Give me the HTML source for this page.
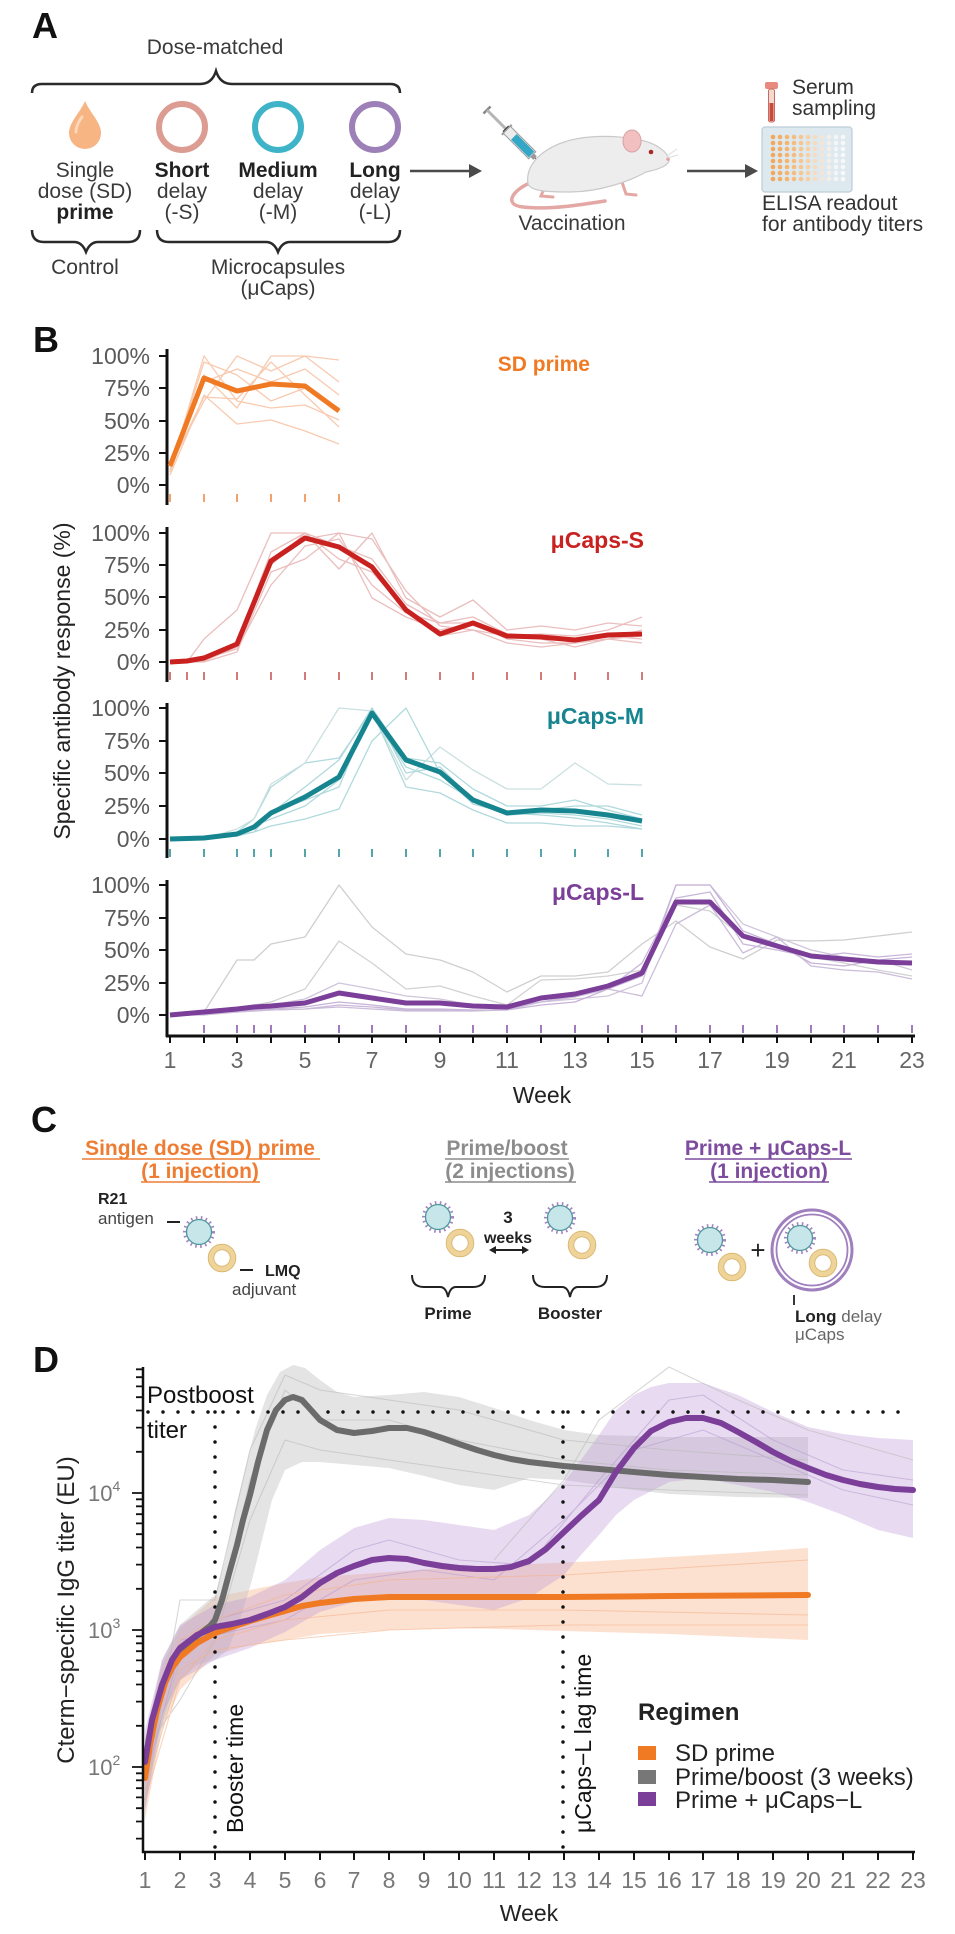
<!DOCTYPE html>
<html><head><meta charset="utf-8"><style>
html,body{margin:0;padding:0;background:#fff;}
svg{display:block;}
</style></head><body>
<svg width="955" height="1934" viewBox="0 0 955 1934" xmlns="http://www.w3.org/2000/svg" font-family="'Liberation Sans', Arial, sans-serif">
<rect width="955" height="1934" fill="#fff"/>

<!-- ================= PANEL A ================= -->
<text x="32" y="38" font-size="36" font-weight="bold" fill="#111">A</text>
<text x="215" y="54" font-size="21" fill="#3a3a3a" text-anchor="middle">Dose-matched</text>
<path d="M32,93 Q32,84 42,84 L200,84 Q212,84 216,71 Q220,84 232,84 L390,84 Q400,84 400,93" fill="none" stroke="#2a2a2a" stroke-width="2.5"/>
<!-- drop -->
<path d="M85,101 C80,113 69,122 69,133 A16,16 0 0 0 101,133 C101,122 90,113 85,101 Z" fill="#f6b583"/>
<path d="M76,132 C76,126 79,121 82,117" fill="none" stroke="#fbd6b8" stroke-width="3" stroke-linecap="round"/>
<circle cx="182" cy="127" r="23" fill="none" stroke="#dc9c92" stroke-width="6"/>
<circle cx="278" cy="127" r="23" fill="none" stroke="#3fb4c9" stroke-width="6"/>
<circle cx="375" cy="127" r="23" fill="none" stroke="#9d80b8" stroke-width="6"/>
<g font-size="21" fill="#3a3a3a" text-anchor="middle">
<text x="85" y="177">Single</text><text x="85" y="198">dose (SD)</text><text x="85" y="219" font-weight="bold" fill="#222">prime</text>
<text x="182" y="177" font-weight="bold" fill="#222">Short</text><text x="182" y="198">delay</text><text x="182" y="219">(-S)</text>
<text x="278" y="177" font-weight="bold" fill="#222">Medium</text><text x="278" y="198">delay</text><text x="278" y="219">(-M)</text>
<text x="375" y="177" font-weight="bold" fill="#222">Long</text><text x="375" y="198">delay</text><text x="375" y="219">(-L)</text>
<text x="85" y="274">Control</text>
<text x="278" y="274">Microcapsules</text>
<text x="278" y="295">(μCaps)</text>
</g>
<path d="M32,230 Q32,242 44,242 L74,242 Q82,242 86,252 Q90,242 98,242 L128,242 Q140,242 140,230" fill="none" stroke="#2a2a2a" stroke-width="2.5"/>
<path d="M157,230 Q157,242 169,242 L266,242 Q274,242 278,252 Q282,242 290,242 L388,242 Q400,242 400,230" fill="none" stroke="#2a2a2a" stroke-width="2.5"/>
<!-- arrow 1 -->
<line x1="410" y1="171" x2="472" y2="171" stroke="#4a4a4a" stroke-width="2.5"/>
<polygon points="469,164 482,171 469,178" fill="#4a4a4a"/>
<!-- syringe -->
<g transform="translate(487,110) rotate(45)">
<line x1="0" y1="-5" x2="0" y2="5" stroke="#888" stroke-width="2.5"/>
<rect x="0" y="-1.5" width="28" height="3" fill="#b5b5b5"/>
<rect x="26" y="-4" width="4" height="8" fill="#333"/>
<line x1="28" y1="-7" x2="28" y2="7" stroke="#999" stroke-width="2"/>
<rect x="28" y="-5" width="36" height="10" fill="#ececec" stroke="#9a9a9a" stroke-width="1"/>
<rect x="38" y="-4" width="25" height="8" fill="#35a7c6"/>
<rect x="64" y="-2.5" width="4" height="5" fill="#999"/>
<line x1="68" y1="0" x2="82" y2="0" stroke="#555" stroke-width="1.3"/>
</g>
<!-- mouse -->
<path d="M532,182 C512,190 503,205 523,207 C548,210 580,205 605,201" fill="none" stroke="#e3a7a4" stroke-width="3.5" stroke-linecap="round"/>
<path d="M545,186 l-4,10 l12,1 M622,182 l4,12 l10,1" fill="none" stroke="#e3a7a4" stroke-width="3" stroke-linecap="round"/>
<path d="M528,184 C524,160 552,140 590,137 C614,135 628,138 640,140 C656,143 668,152 669,160 C669,166 656,170 646,172 C630,181 600,192 570,192 C546,192 531,191 528,184 Z" fill="#ededed" stroke="#c9c9c9" stroke-width="1.2"/>
<ellipse cx="632" cy="141" rx="9" ry="11" fill="#f2c0c0" stroke="#d7a2a2" stroke-width="1"/>
<circle cx="651" cy="152" r="2.3" fill="#a52a2a"/>
<circle cx="668" cy="159" r="1.8" fill="#e39a9a"/>
<path d="M667,156 l10,-7 M667,158 l11,-3" stroke="#ddd" stroke-width="1"/>
<text x="572" y="230" font-size="21" fill="#3a3a3a" text-anchor="middle">Vaccination</text>
<!-- arrow 2 -->
<line x1="687" y1="171" x2="748" y2="171" stroke="#4a4a4a" stroke-width="2.5"/>
<polygon points="745,164 758,171 745,178" fill="#4a4a4a"/>
<!-- tube -->
<rect x="765" y="82" width="13" height="7" rx="2" fill="#e88a80"/>
<rect x="768.5" y="89" width="6" height="33" rx="2" fill="#f4d9cf" stroke="#c96a60" stroke-width="1"/>
<rect x="769.5" y="103" width="4" height="18" fill="#c94a3a"/>
<text x="792" y="94" font-size="21" fill="#333">Serum</text>
<text x="792" y="115" font-size="21" fill="#333">sampling</text>
<!-- plate -->
<rect x="762" y="127" width="90" height="65" rx="3" fill="#dde9ef" stroke="#bccdd6" stroke-width="1.2"/>
<g>
<g fill="#f3a75a"><circle cx="773" cy="137" r="2.3"/><circle cx="773" cy="143" r="2.3"/><circle cx="773" cy="149" r="2.3"/><circle cx="773" cy="155" r="2.3"/><circle cx="773" cy="161" r="2.3"/><circle cx="773" cy="167" r="2.3"/><circle cx="773" cy="173" r="2.3"/><circle cx="773" cy="179" r="2.3"/></g>
<g fill="#f4ad64"><circle cx="780" cy="137" r="2.3"/><circle cx="780" cy="143" r="2.3"/><circle cx="780" cy="149" r="2.3"/><circle cx="780" cy="155" r="2.3"/><circle cx="780" cy="161" r="2.3"/><circle cx="780" cy="167" r="2.3"/><circle cx="780" cy="173" r="2.3"/><circle cx="780" cy="179" r="2.3"/></g>
<g fill="#f5b470"><circle cx="787" cy="137" r="2.3"/><circle cx="787" cy="143" r="2.3"/><circle cx="787" cy="149" r="2.3"/><circle cx="787" cy="155" r="2.3"/><circle cx="787" cy="161" r="2.3"/><circle cx="787" cy="167" r="2.3"/><circle cx="787" cy="173" r="2.3"/><circle cx="787" cy="179" r="2.3"/></g>
<g fill="#f6bc7f"><circle cx="794" cy="137" r="2.3"/><circle cx="794" cy="143" r="2.3"/><circle cx="794" cy="149" r="2.3"/><circle cx="794" cy="155" r="2.3"/><circle cx="794" cy="161" r="2.3"/><circle cx="794" cy="167" r="2.3"/><circle cx="794" cy="173" r="2.3"/><circle cx="794" cy="179" r="2.3"/></g>
<g fill="#f7c590"><circle cx="801" cy="137" r="2.3"/><circle cx="801" cy="143" r="2.3"/><circle cx="801" cy="149" r="2.3"/><circle cx="801" cy="155" r="2.3"/><circle cx="801" cy="161" r="2.3"/><circle cx="801" cy="167" r="2.3"/><circle cx="801" cy="173" r="2.3"/><circle cx="801" cy="179" r="2.3"/></g>
<g fill="#f7cfa4"><circle cx="808" cy="137" r="2.3"/><circle cx="808" cy="143" r="2.3"/><circle cx="808" cy="149" r="2.3"/><circle cx="808" cy="155" r="2.3"/><circle cx="808" cy="161" r="2.3"/><circle cx="808" cy="167" r="2.3"/><circle cx="808" cy="173" r="2.3"/><circle cx="808" cy="179" r="2.3"/></g>
<g fill="#f5dcc0"><circle cx="815" cy="137" r="2.3"/><circle cx="815" cy="143" r="2.3"/><circle cx="815" cy="149" r="2.3"/><circle cx="815" cy="155" r="2.3"/><circle cx="815" cy="161" r="2.3"/><circle cx="815" cy="167" r="2.3"/><circle cx="815" cy="173" r="2.3"/><circle cx="815" cy="179" r="2.3"/></g>
<g fill="#f3e6d6"><circle cx="822" cy="137" r="2.3"/><circle cx="822" cy="143" r="2.3"/><circle cx="822" cy="149" r="2.3"/><circle cx="822" cy="155" r="2.3"/><circle cx="822" cy="161" r="2.3"/><circle cx="822" cy="167" r="2.3"/><circle cx="822" cy="173" r="2.3"/><circle cx="822" cy="179" r="2.3"/></g>
<g fill="#f2eee8"><circle cx="829" cy="137" r="2.3"/><circle cx="829" cy="143" r="2.3"/><circle cx="829" cy="149" r="2.3"/><circle cx="829" cy="155" r="2.3"/><circle cx="829" cy="161" r="2.3"/><circle cx="829" cy="167" r="2.3"/><circle cx="829" cy="173" r="2.3"/><circle cx="829" cy="179" r="2.3"/></g>
<g fill="#f5f5f5"><circle cx="836" cy="137" r="2.3"/><circle cx="836" cy="143" r="2.3"/><circle cx="836" cy="149" r="2.3"/><circle cx="836" cy="155" r="2.3"/><circle cx="836" cy="161" r="2.3"/><circle cx="836" cy="167" r="2.3"/><circle cx="836" cy="173" r="2.3"/><circle cx="836" cy="179" r="2.3"/></g>
<g fill="#f8f8f8"><circle cx="843" cy="137" r="2.3"/><circle cx="843" cy="143" r="2.3"/><circle cx="843" cy="149" r="2.3"/><circle cx="843" cy="155" r="2.3"/><circle cx="843" cy="161" r="2.3"/><circle cx="843" cy="167" r="2.3"/><circle cx="843" cy="173" r="2.3"/><circle cx="843" cy="179" r="2.3"/></g>
</g>
<text x="762" y="210" font-size="21" fill="#333">ELISA readout</text>
<text x="762" y="231" font-size="21" fill="#333">for antibody titers</text>

<!-- ================= PANEL B ================= -->
<text x="33" y="352" font-size="36" font-weight="bold" fill="#111">B</text>
<text transform="translate(70,681) rotate(-90)" font-size="23" fill="#222" text-anchor="middle">Specific antibody response (%)</text>

<!-- y tick labels -->
<g font-size="23" fill="#5a5a5a" text-anchor="end">
<text x="150" y="364">100%</text><text x="150" y="396">75%</text><text x="150" y="429">50%</text><text x="150" y="461">25%</text><text x="150" y="493">0%</text>
<text x="150" y="541">100%</text><text x="150" y="573">75%</text><text x="150" y="605">50%</text><text x="150" y="638">25%</text><text x="150" y="670">0%</text>
<text x="150" y="716">100%</text><text x="150" y="749">75%</text><text x="150" y="781">50%</text><text x="150" y="814">25%</text><text x="150" y="847">0%</text>
<text x="150" y="893">100%</text><text x="150" y="926">75%</text><text x="150" y="958">50%</text><text x="150" y="991">25%</text><text x="150" y="1023">0%</text>
</g>
<g stroke="#111" stroke-width="2">
<path d="M159,356H167M159,388H167M159,421H167M159,453H167M159,485H167"/>
<path d="M159,533H167M159,565H167M159,597H167M159,630H167M159,662H167"/>
<path d="M159,708H167M159,741H167M159,773H167M159,806H167M159,839H167"/>
<path d="M159,885H167M159,918H167M159,950H167M159,983H167M159,1015H167"/>
</g>
<g stroke="#111" stroke-width="3">
<line x1="167" y1="349" x2="167" y2="505"/>
<line x1="167" y1="527" x2="167" y2="682"/>
<line x1="167" y1="703" x2="167" y2="858"/>
<line x1="167" y1="880" x2="167" y2="1037"/>
<line x1="166" y1="1036" x2="915" y2="1036"/>
</g>
<!-- x ticks B -->
<path d="M170,1036V1043M204,1036V1043M237,1036V1043M271,1036V1043M305,1036V1043M339,1036V1043M372,1036V1043M406,1036V1043M440,1036V1043M473,1036V1043M507,1036V1043M541,1036V1043M575,1036V1043M608,1036V1043M642,1036V1043M676,1036V1043M710,1036V1043M743,1036V1043M777,1036V1043M811,1036V1043M844,1036V1043M878,1036V1043M912,1036V1043" stroke="#111" stroke-width="2"/>
<g font-size="23" fill="#666" text-anchor="middle">
<text x="170" y="1068">1</text><text x="237" y="1068">3</text><text x="305" y="1068">5</text><text x="372" y="1068">7</text><text x="440" y="1068">9</text><text x="507" y="1068">11</text><text x="575" y="1068">13</text><text x="642" y="1068">15</text><text x="710" y="1068">17</text><text x="777" y="1068">19</text><text x="844" y="1068">21</text><text x="912" y="1068">23</text>
</g>
<text x="542" y="1103" font-size="23" fill="#222" text-anchor="middle">Week</text>

<!-- rug ticks -->
<path d="M170,494V502M204,494V502M237,494V502M271,494V502M305,494V502M339,494V502" stroke="#f08a45" stroke-width="1.6"/>
<path d="M170,672V680M187,672V680M204,672V680M237,672V680M271,672V680M305,672V680M339,672V680M372,672V680M406,672V680M440,672V680M473,672V680M507,672V680M541,672V680M575,672V680M608,672V680M642,672V680" stroke="#c85a5a" stroke-width="1.6"/>
<path d="M170,849V857M204,849V857M237,849V857M254,849V857M271,849V857M305,849V857M339,849V857M372,849V857M406,849V857M440,849V857M473,849V857M507,849V857M541,849V857M575,849V857M608,849V857M642,849V857" stroke="#2a8e98" stroke-width="1.6"/>
<path d="M204,1025V1033M237,1025V1033M254,1025V1033M271,1025V1033M305,1025V1033M339,1025V1033M372,1025V1033M406,1025V1033M440,1025V1033M473,1025V1033M507,1025V1033M541,1025V1033M575,1025V1033M608,1025V1033M642,1025V1033M676,1025V1033M710,1025V1033M743,1025V1033M777,1025V1033M811,1025V1033M844,1025V1033M878,1025V1033M912,1025V1033" stroke="#8a5aa8" stroke-width="1.6"/>

<!-- SD prime -->
<g fill="none" stroke="#f4a070" stroke-width="1.3" opacity="0.55" stroke-linejoin="round">
<polyline points="170,470 204,356 237,401 271,408 305,405 339,420"/>
<polyline points="170,466 204,401 237,356 271,371 305,356 339,382"/>
<polyline points="170,472 204,375 237,408 271,356 305,356 339,360"/>
<polyline points="170,475 204,395 237,424 271,420 305,431 339,444"/>
<polyline points="170,467 204,397 237,399 271,362 305,395 339,427"/>
<polyline points="170,470 204,362 237,375 271,401 305,388 339,408"/>
<polyline points="170,472 204,382 237,369 271,382 305,369 339,395"/>
</g>
<polyline points="170,466 204,378 237,391 271,384 305,386 339,411" fill="none" stroke="#f07a24" stroke-width="5" stroke-linejoin="round"/>
<text x="590" y="371" font-size="21" font-weight="bold" fill="#f07a24" text-anchor="end">SD prime</text>

<!-- uCaps-S -->
<g fill="none" stroke="#d98a8a" stroke-width="1.3" opacity="0.55" stroke-linejoin="round">
<polyline points="170,662 187,662 204,639 237,610 271,533 305,533 339,546 372,559 406,604 440,623 473,617 507,634 541,636 575,643 608,639 642,636"/>
<polyline points="170,662 187,662 204,656 237,647 271,565 305,533 339,569 372,533 406,598 440,617 473,600 507,630 541,626 575,630 608,623 642,626"/>
<polyline points="170,662 187,662 204,659 237,649 271,585 305,546 339,539 372,585 406,613 440,623 473,623 507,639 541,643 575,643 608,639 642,643"/>
<polyline points="170,662 187,662 204,662 237,652 271,572 305,559 339,533 372,539 406,591 440,626 473,630 507,643 541,647 575,643 608,636 642,639"/>
<polyline points="170,662 187,662 204,658 237,643 271,552 305,533 339,559 372,572 406,610 440,636 473,630 507,636 541,634 575,636 608,630 642,617"/>
<polyline points="170,662 187,662 204,661 237,647 271,559 305,539 339,533 372,598 406,617 440,630 473,623 507,634 541,639 575,647 608,639 642,630"/>
</g>
<polyline points="170,662 187,661 204,658 237,644 271,561 305,538 339,547 372,567 406,610 440,634 473,623 507,636 541,637 575,640 608,635 642,634" fill="none" stroke="#c8211f" stroke-width="5" stroke-linejoin="round"/>
<text x="644" y="548" font-size="23" font-weight="bold" fill="#c8211f" text-anchor="end">μCaps-S</text>

<!-- uCaps-M -->
<g fill="none" stroke="#7cc1c6" stroke-width="1.3" opacity="0.6" stroke-linejoin="round">
<polyline points="170,839 204,839 237,835 254,832 271,813 305,787 339,760 372,708 406,758 440,763 473,789 507,806 541,806 575,800 608,810 642,819"/>
<polyline points="170,839 204,839 237,832 254,819 271,787 305,763 339,758 372,711 406,787 440,793 473,810 507,823 541,823 575,826 608,826 642,829"/>
<polyline points="170,839 204,839 237,834 254,826 271,819 305,806 339,780 372,715 406,767 440,780 473,800 507,813 541,815 575,818 608,823 642,829"/>
<polyline points="170,839 204,839 237,829 254,819 271,784 305,763 339,708 372,711 406,780 440,747 473,770 507,789 541,789 575,763 608,784 642,785" stroke="#a8cccc"/>
<polyline points="170,839 204,839 237,836 254,832 271,826 305,819 339,809 372,741 406,708 440,773 473,804 507,813 541,810 575,806 608,806 642,815"/>
<polyline points="170,839 204,839 237,835 254,826 271,813 305,800 339,787 372,708 406,773 440,767 473,800 507,815 541,813 575,815 608,819 642,826"/>
</g>
<polyline points="170,839 204,838 237,834 254,827 271,813 305,797 339,777 372,713 406,760 440,772 473,800 507,813 541,810 575,811 608,815 642,821" fill="none" stroke="#16858f" stroke-width="5" stroke-linejoin="round"/>
<text x="644" y="724" font-size="23" font-weight="bold" fill="#16858f" text-anchor="end">μCaps-M</text>

<!-- uCaps-L -->
<g fill="none" stroke-width="1.3" stroke-linejoin="round">
<polyline stroke="#cfcfcf" points="170,1015 204,1012 237,960 254,960 271,944 305,937 339,885 372,927 406,954 440,960 473,972 507,992 541,976 575,976 608,972 642,944 676,921 710,947 743,959 777,940 811,941 844,940 878,936 912,932"/>
<polyline stroke="#d2d2d2" points="170,1015 204,1012 237,1009 254,1005 271,1002 305,989 339,941 372,963 406,989 440,986 473,996 507,1005 541,980 575,979 608,976 642,970 676,905 710,911 743,937 777,944 811,957 844,963 878,970 912,976"/>
<polyline stroke="#d0c6da" points="170,1015 204,1014 237,1011 254,1009 271,1005 305,999 339,983 372,989 406,996 440,999 473,1005 507,1007 541,1002 575,999 608,996 642,983 676,885 710,885 743,924 777,937 811,950 844,957 878,960 912,970"/>
<polyline stroke="#c7b3d8" points="170,1015 204,1014 237,1011 254,1010 271,1009 305,1007 339,1002 372,1005 406,1009 440,1009 473,1010 507,1010 541,1005 575,1002 608,989 642,976 676,885 710,885 743,931 777,944 811,963 844,966 878,960 912,957"/>
<polyline stroke="#c9b7d9" points="170,1015 204,1014 237,1012 254,1011 271,1010 305,1009 339,1005 372,1007 406,1010 440,1010 473,1011 507,1009 541,1002 575,996 608,989 642,963 676,898 710,892 743,944 777,950 811,957 844,953 878,957 912,954"/>
<polyline stroke="#cbbcd9" points="170,1015 204,1015 237,1012 254,1011 271,1010 305,1009 339,1007 372,1009 406,1011 440,1011 473,1011 507,1010 541,1002 575,997 608,989 642,996 676,924 710,905 743,953 777,937 811,966 844,970 878,972 912,979"/>
</g>
<polyline points="170,1015 204,1012 237,1009 254,1007 271,1006 305,1003 339,993 372,998 406,1003 440,1003 473,1006 507,1007 541,998 575,994 608,986 642,973 676,902 710,902 743,936 777,946 811,956 844,959 878,962 912,963" fill="none" stroke="#7b3f99" stroke-width="5" stroke-linejoin="round"/>
<text x="644" y="900" font-size="23" font-weight="bold" fill="#7b3f99" text-anchor="end">μCaps-L</text>

<!-- ================= PANEL C ================= -->
<text x="31" y="1132" font-size="36" font-weight="bold" fill="#111">C</text>
<g font-size="21" font-weight="bold" text-anchor="middle">
<text x="200" y="1155" fill="#ee7d33">Single dose (SD) prime</text>
<text x="200" y="1178" fill="#ee7d33">(1 injection)</text>
<text x="507" y="1155" fill="#8c8c8c">Prime/boost</text>
<text x="510" y="1178" fill="#8c8c8c">(2 injections)</text>
<text x="768" y="1155" fill="#7d4c9e">Prime + μCaps-L</text>
<text x="769" y="1178" fill="#7d4c9e">(1 injection)</text>
</g>
<g stroke-width="1.6">
<line x1="82" y1="1159" x2="320" y2="1159" stroke="#ee7d33"/>
<line x1="141" y1="1182" x2="260" y2="1182" stroke="#ee7d33"/>
<line x1="445" y1="1159" x2="569" y2="1159" stroke="#8c8c8c"/>
<line x1="445" y1="1182" x2="576" y2="1182" stroke="#8c8c8c"/>
<line x1="685" y1="1159" x2="852" y2="1159" stroke="#7d4c9e"/>
<line x1="709" y1="1182" x2="829" y2="1182" stroke="#7d4c9e"/>
</g>
<!-- particles -->
<defs>
<g id="ag"><circle r="14.5" fill="none" stroke="#a583c0" stroke-width="3" stroke-dasharray="1.6 3.4"/><circle r="12.5" fill="#c6e6ea" stroke="#4f979e" stroke-width="1.3"/></g>
<g id="rg"><circle r="11" fill="#fff" stroke="#efd49a" stroke-width="5.5"/><circle r="13.8" fill="none" stroke="#d8b56e" stroke-width="0.9"/><circle r="8.2" fill="none" stroke="#d8b56e" stroke-width="0.9"/></g>
</defs>
<text x="98" y="1204" font-size="16" font-weight="bold" fill="#222">R21</text>
<text x="98" y="1224" font-size="17" fill="#444">antigen</text>
<line x1="167" y1="1222" x2="180" y2="1222" stroke="#222" stroke-width="2"/>
<use href="#ag" x="199" y="1232"/>
<use href="#rg" x="222" y="1258"/>
<line x1="240" y1="1270" x2="253" y2="1270" stroke="#222" stroke-width="2"/>
<text x="265" y="1276" font-size="16" font-weight="bold" fill="#222">LMQ</text>
<text x="232" y="1295" font-size="17" fill="#444">adjuvant</text>

<use href="#ag" x="438" y="1217"/>
<use href="#rg" x="460" y="1243"/>
<use href="#ag" x="560" y="1218"/>
<use href="#rg" x="582" y="1245"/>
<text x="508" y="1223" font-size="17" font-weight="bold" fill="#222" text-anchor="middle">3</text>
<text x="508" y="1243" font-size="16" font-weight="bold" fill="#222" text-anchor="middle">weeks</text>
<line x1="494" y1="1250" x2="524" y2="1250" stroke="#222" stroke-width="2"/>
<polygon points="489,1250 496,1246 496,1254" fill="#222"/>
<polygon points="529,1250 522,1246 522,1254" fill="#222"/>
<path d="M412,1275 Q412,1287 424,1287 L440,1287 Q446,1287 448,1297 Q450,1287 456,1287 L473,1287 Q485,1287 485,1275" fill="none" stroke="#222" stroke-width="2"/>
<path d="M533,1275 Q533,1287 545,1287 L562,1287 Q568,1287 570,1297 Q572,1287 578,1287 L595,1287 Q607,1287 607,1275" fill="none" stroke="#222" stroke-width="2"/>
<text x="448" y="1319" font-size="17" font-weight="bold" fill="#222" text-anchor="middle">Prime</text>
<text x="570" y="1319" font-size="17" font-weight="bold" fill="#222" text-anchor="middle">Booster</text>

<use href="#ag" x="710" y="1240"/>
<use href="#rg" x="732" y="1267"/>
<text x="758" y="1259" font-size="26" fill="#222" text-anchor="middle">+</text>
<circle cx="812" cy="1250" r="40" fill="none" stroke="#a07fbe" stroke-width="3"/>
<circle cx="812" cy="1250" r="35.5" fill="none" stroke="#a07fbe" stroke-width="1.8"/>
<use href="#ag" x="800" y="1238"/>
<use href="#rg" x="823" y="1263"/>
<line x1="794" y1="1295" x2="794" y2="1305" stroke="#222" stroke-width="1.8"/>
<text x="795" y="1322" font-size="17" fill="#666"><tspan font-weight="bold" fill="#222">Long</tspan> delay</text>
<text x="795" y="1340" font-size="17" fill="#666">μCaps</text>

<!-- ================= PANEL D ================= -->
<text x="33" y="1372" font-size="36" font-weight="bold" fill="#111">D</text>
<text transform="translate(74,1610) rotate(-90)" font-size="24" fill="#222" text-anchor="middle">Cterm−specific IgG titer (EU)</text>

<!-- bands -->
<polygon fill="#f9b48a" opacity="0.4" points="145,1740 162,1665 180,1628 215,1597 250,1590 285,1583 320,1577 389,1572 459,1567 529,1564 599,1561 669,1557 738,1553 808,1548 808,1640 738,1637 669,1634 599,1632 529,1630 459,1628 389,1630 320,1634 285,1640 250,1645 215,1655 180,1690 162,1730 145,1820"/>
<polygon fill="#c4c4c4" opacity="0.45" points="145,1740 162,1660 180,1625 197,1610 215,1595 225,1560 235,1510 245,1470 255,1430 267,1395 280,1372 293,1365 305,1368 320,1380 337,1392 354,1397 389,1395 424,1392 459,1397 494,1408 529,1420 564,1430 599,1435 669,1437 738,1437 808,1437 808,1498 738,1497 669,1494 634,1490 599,1485 564,1480 529,1478 494,1490 459,1485 424,1476 389,1468 354,1465 320,1462 302,1462 285,1470 272,1500 262,1540 252,1580 240,1620 228,1650 215,1660 197,1665 180,1680 162,1725 145,1810"/>
<polygon fill="#b892d6" opacity="0.33" points="145,1730 162,1660 180,1625 215,1605 250,1597 285,1580 320,1550 354,1528 389,1518 424,1520 459,1525 494,1530 529,1515 546,1500 564,1482 581,1460 599,1435 616,1410 634,1395 651,1387 669,1383 703,1383 738,1395 773,1412 808,1427 843,1434 878,1438 913,1440 913,1538 878,1530 843,1515 808,1502 773,1492 738,1485 703,1478 669,1482 634,1500 616,1515 599,1535 581,1555 564,1575 529,1598 494,1610 459,1605 424,1600 389,1595 354,1602 320,1612 285,1632 250,1648 215,1660 180,1680 162,1715 145,1810"/>

<!-- thin lines -->
<g fill="none" stroke-width="1.1" stroke-linejoin="round" opacity="0.55">
<polyline stroke="#b8b8b8" points="145,1800 180,1600 215,1600 250,1450 285,1375 320,1390 389,1400 459,1410 564,1440 669,1450 808,1460"/>
<polyline stroke="#b8b8b8" points="145,1750 180,1700 215,1640 250,1520 285,1440 320,1450 389,1460 459,1470 564,1485 669,1490 808,1495"/>
<polyline stroke="#b8b8b8" points="145,1780 180,1660 215,1630 250,1480 285,1390 320,1420 389,1420 459,1440 564,1460 669,1470 808,1475"/>
<polyline stroke="#b8b8b8" points="494,1560 564,1480 599,1420 669,1367 738,1400 808,1430 913,1460"/>
<polyline stroke="#b89ad0" points="145,1780 180,1650 215,1620 285,1600 354,1550 389,1540 459,1560 529,1565 599,1480 669,1400 703,1395 773,1440 843,1470 913,1480"/>
<polyline stroke="#b89ad0" points="145,1760 180,1640 215,1635 285,1620 354,1580 424,1570 494,1580 564,1520 634,1450 703,1430 773,1460 843,1490 913,1505"/>
<polyline stroke="#f4b08a" points="145,1800 180,1680 215,1640 285,1620 389,1610 564,1610 808,1615"/>
<polyline stroke="#f4b08a" points="145,1760 180,1640 215,1620 285,1595 389,1580 564,1575 808,1560"/>
<polyline stroke="#f4b08a" points="145,1790 180,1670 215,1650 285,1640 389,1630 564,1625 808,1625"/>
</g>

<!-- dotted reference lines -->
<g stroke="#111" stroke-width="3.5" stroke-linecap="round" stroke-dasharray="0 15" fill="none">
<line x1="148" y1="1412" x2="913" y2="1412"/>
<line x1="215" y1="1412" x2="215" y2="1850"/>
<line x1="563" y1="1412" x2="563" y2="1850"/>
</g>
<text x="147" y="1403" font-size="24" fill="#111">Postboost</text>
<text x="147" y="1438" font-size="24" fill="#111">titer</text>
<text transform="translate(243,1833) rotate(-90)" font-size="23" fill="#111">Booster time</text>
<text transform="translate(591,1833) rotate(-90)" font-size="23" fill="#111">μCaps−L lag time</text>

<!-- mean curves -->
<polyline fill="none" stroke="#6b6b6b" stroke-width="6" stroke-linejoin="round" stroke-linecap="round" points="145,1770 155,1715 165,1680 180,1652 197,1636 210,1626 215,1620 222,1600 230,1570 237,1545 243,1520 250,1495 258,1462 267,1430 276,1410 285,1400 293,1397 302,1400 311,1410 320,1420 337,1430 354,1433 372,1431 389,1428 407,1428 424,1432 442,1438 459,1444 477,1450 494,1455 511,1459 529,1462 564,1466 599,1469 634,1472 669,1475 703,1477 738,1479 773,1480 808,1482"/>
<polyline fill="none" stroke="#f07a24" stroke-width="6" stroke-linejoin="round" stroke-linecap="round" points="145,1778 150,1745 157,1710 165,1683 172,1668 180,1657 197,1643 215,1633 232,1627 250,1621 267,1616 285,1611 302,1606 320,1603 354,1599 389,1597 459,1597 564,1597 669,1596 808,1595"/>
<polyline fill="none" stroke="#7b3f99" stroke-width="6" stroke-linejoin="round" stroke-linecap="round" points="145,1762 152,1720 162,1685 172,1660 180,1648 197,1635 215,1627 232,1624 250,1620 267,1614 285,1607 302,1597 320,1583 337,1573 354,1566 372,1560 389,1558 407,1559 424,1563 442,1566 459,1568 477,1569 494,1569 511,1567 529,1561 546,1549 564,1532 581,1516 599,1500 616,1472 634,1448 651,1431 669,1422 686,1418 703,1418 721,1423 738,1432 756,1442 773,1452 791,1461 808,1468 826,1475 843,1480 860,1484 878,1487 895,1489 913,1490"/>

<!-- axes D -->
<g stroke="#111" stroke-width="2.5">
<line x1="143" y1="1367" x2="143" y2="1853"/>
<line x1="142" y1="1852" x2="915" y2="1852"/>
</g>
<path stroke="#111" stroke-width="1.8" d="M136,1838.6H143M136,1821.5H143M136,1808.2H143M136,1797.4H143M136,1788.2H143M136,1780.3H143M136,1773.3H143M132,1767H143M136,1725.8H143M136,1701.6H143M136,1684.5H143M136,1671.2H143M136,1660.4H143M136,1651.2H143M136,1643.3H143M136,1636.3H143M132,1630H143M136,1588.8H143M136,1564.6H143M136,1547.5H143M136,1534.2H143M136,1523.4H143M136,1514.2H143M136,1506.3H143M136,1499.3H143M132,1493H143M136,1451.8H143M136,1427.6H143M136,1410.5H143M136,1397.2H143M136,1386.4H143M136,1377.2H143M136,1369.3H143"/>
<g fill="#777">
<text x="88" y="1501" font-size="22">10<tspan font-size="14" dy="-10">4</tspan></text>
<text x="88" y="1638" font-size="22">10<tspan font-size="14" dy="-10">3</tspan></text>
<text x="88" y="1775" font-size="22">10<tspan font-size="14" dy="-10">2</tspan></text>
</g>
<path stroke="#111" stroke-width="2" d="M145,1852V1860M180,1852V1860M215,1852V1860M250,1852V1860M285,1852V1860M320,1852V1860M354,1852V1860M389,1852V1860M424,1852V1860M459,1852V1860M494,1852V1860M529,1852V1860M564,1852V1860M599,1852V1860M634,1852V1860M669,1852V1860M703,1852V1860M738,1852V1860M773,1852V1860M808,1852V1860M843,1852V1860M878,1852V1860M913,1852V1860"/>
<g font-size="23" fill="#777" text-anchor="middle">
<text x="145" y="1888">1</text><text x="180" y="1888">2</text><text x="215" y="1888">3</text><text x="250" y="1888">4</text><text x="285" y="1888">5</text><text x="320" y="1888">6</text><text x="354" y="1888">7</text><text x="389" y="1888">8</text><text x="424" y="1888">9</text><text x="459" y="1888">10</text><text x="494" y="1888">11</text><text x="529" y="1888">12</text><text x="564" y="1888">13</text><text x="599" y="1888">14</text><text x="634" y="1888">15</text><text x="669" y="1888">16</text><text x="703" y="1888">17</text><text x="738" y="1888">18</text><text x="773" y="1888">19</text><text x="808" y="1888">20</text><text x="843" y="1888">21</text><text x="878" y="1888">22</text><text x="913" y="1888">23</text>
</g>
<text x="529" y="1921" font-size="23" fill="#222" text-anchor="middle">Week</text>

<!-- legend -->
<text x="638" y="1720" font-size="24" font-weight="bold" fill="#222">Regimen</text>
<rect x="638" y="1746" width="18" height="14" fill="#f07a24"/>
<rect x="638" y="1770" width="18" height="14" fill="#777"/>
<rect x="638" y="1792" width="18" height="14" fill="#7b3f99"/>
<g font-size="24" fill="#222">
<text x="675" y="1761">SD prime</text>
<text x="675" y="1785">Prime/boost (3 weeks)</text>
<text x="675" y="1808">Prime + μCaps−L</text>
</g>
</svg>
</body></html>
